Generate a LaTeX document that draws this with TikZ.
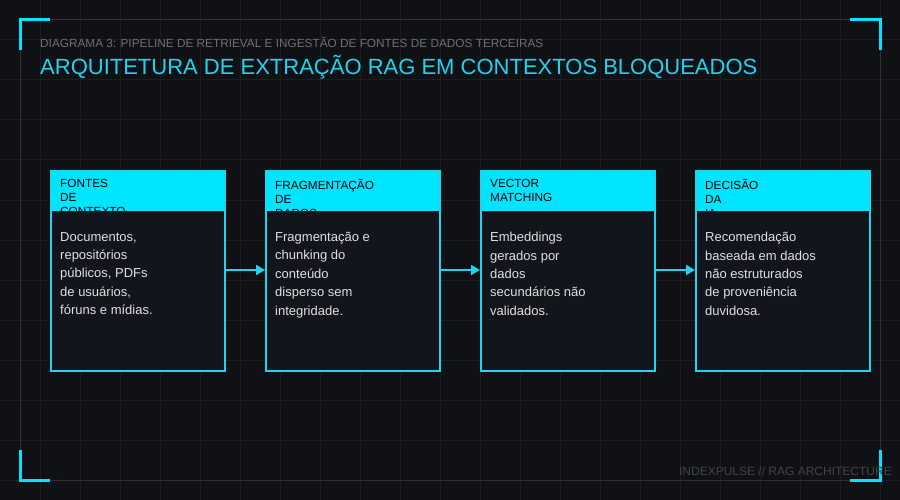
\documentclass[tikz,border=0pt]{standalone}
\usepackage{fontspec}
\setmainfont{Liberation Sans}
\usetikzlibrary{arrows.meta}
\definecolor{bg}{HTML}{0F1115}
\definecolor{gridc}{HTML}{1A1D22}
\definecolor{cy}{HTML}{00E5FF}
\definecolor{cyb}{HTML}{22D3EE}
\definecolor{body}{HTML}{12151C}
\definecolor{sub}{HTML}{6B7078}
\definecolor{foot}{HTML}{3F444B}
\begin{document}
\begin{tikzpicture}[x=1pt,y=-1pt,
  hdr/.style={anchor=north west,font=\fontsize{11.8}{14}\selectfont,text=black,align=left},
  txt/.style={anchor=north west,font=\fontsize{13}{18.4}\selectfont,text=white!88!black,align=left},
  brk/.style={cy,line width=3pt},
  arr/.style={cyb,line width=2pt,-{Triangle[length=9pt,width=10pt]}}]
\fill[bg] (0,0) rectangle (900,500);
\useasboundingbox (0,0) rectangle (900,500);
\foreach \i in {40,80,...,880} \draw[gridc,line width=1pt] (\i,0) -- (\i,500);
\foreach \i in {40,80,...,480} \draw[gridc,line width=1pt] (0,\i) -- (900,\i);
\draw[white!13!bg,line width=1pt] (20,20) rectangle (880,480);
\draw[brk] (20,50) -- (20,20) -- (50,20);
\draw[brk] (850,20) -- (880,20) -- (880,50);
\draw[brk] (20,450) -- (20,480) -- (50,480);
\draw[brk] (850,480) -- (880,480) -- (880,450);
\node[anchor=west,text=sub,font=\fontsize{11.8}{13}\selectfont,inner sep=0] (sub) at (40,42) {DIAGRAMA 3: PIPELINE DE RETRIEVAL E INGESTÃO DE FONTES DE DADOS TERCEIRAS};
\node[anchor=west,text=cyb,font=\fontsize{22}{25}\selectfont,inner sep=0] (title) at (40,67) {ARQUITETURA DE EXTRAÇÃO RAG EM CONTEXTOS BLOQUEADOS};
\node[anchor=east,text=foot,font=\fontsize{12}{13}\selectfont,inner sep=0] (foot) at (892,471) {INDEXPULSE // RAG ARCHITECTURE};
\foreach \n/\x/\h/\b in {
 a/50/{FONTES\\DE\\CONTEXTO}/{Documentos,\\repositórios\\públicos, PDFs\\de usuários,\\fóruns e mídias.},
 b/265/{FRAGMENTAÇÃO\\DE\\DADOS}/{Fragmentação e\\chunking do\\conteúdo\\disperso sem\\integridade.},
 c/480/{VECTOR\\MATCHING}/{Embeddings\\gerados por\\dados\\secundários não\\validados.},
 d/695/{DECISÃO\\DA\\IA}/{Recomendação\\baseada em dados\\não estruturados\\de proveniência\\duvidosa.}}{
  \fill[cy] (\x,170) rectangle ++(176,202);
  \node[hdr,inner sep=0] (\n h) at (\x+10,179) {\h};
  \fill[body] (\x+2,211) rectangle ++(172,159);
  \draw[cyb,line width=1.5pt] (\x+1,171) rectangle ++(174,200);
  \node[txt,inner sep=0] (\n t) at (\x+10,232) {\b};
  \coordinate (\n L) at (\x,270);
  \coordinate (\n R) at (\x+176,270);
}
\draw[arr] (aR) -- (bL);
\draw[arr] (bR) -- (cL);
\draw[arr] (cR) -- (dL);
\end{tikzpicture}
\end{document}
